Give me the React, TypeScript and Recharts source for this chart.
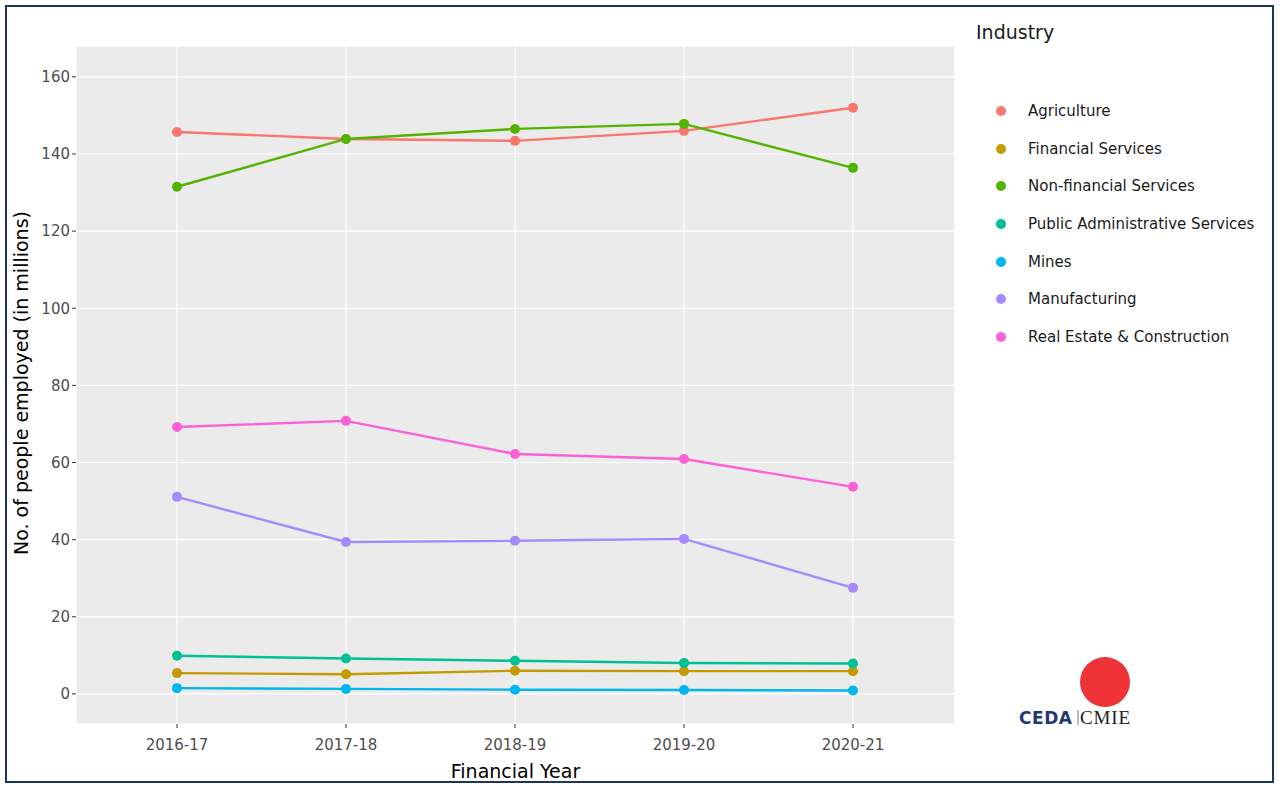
import React from "react";
import {
  LineChart,
  Line,
  CartesianGrid,
  XAxis,
  YAxis,
} from "recharts";

const years = ["2016-17", "2017-18", "2018-19", "2019-20", "2020-21"];

const agriculture = [145.7, 143.9, 143.4, 146.0, 152.0];
const financialServices = [5.4, 5.1, 6.0, 5.9, 5.9];
const nonFinancialServices = [131.5, 143.9, 146.5, 147.8, 136.4];
const publicAdmin = [9.9, 9.2, 8.6, 8.0, 7.9];
const mines = [1.5, 1.3, 1.1, 1.0, 0.9];
const manufacturing = [51.1, 39.4, 39.7, 40.2, 27.5];
const realEstate = [69.2, 70.8, 62.2, 60.9, 53.7];

const yTicks = [0, 20, 40, 60, 80, 100, 120, 140, 160];

const series = [
  { key: "agri", name: "Agriculture", color: "#F8766D", values: agriculture },
  { key: "fin", name: "Financial Services", color: "#C49A00", values: financialServices },
  { key: "nonfin", name: "Non-financial Services", color: "#53B400", values: nonFinancialServices },
  { key: "pub", name: "Public Administrative Services", color: "#00C094", values: publicAdmin },
  { key: "mines", name: "Mines", color: "#00B6EB", values: mines },
  { key: "mfg", name: "Manufacturing", color: "#A58AFF", values: manufacturing },
  { key: "re", name: "Real Estate & Construction", color: "#FB61D7", values: realEstate },
];

const data = years.map((year, i) => {
  const row: any = { year };
  series.forEach((s) => (row[s.key] = s.values[i]));
  return row;
});

const FONT = "'DejaVu Sans', Verdana, sans-serif";

// legend drawn beside the plot, ggplot style
const LegendBox = () => (
  <div
    style={{
      position: "absolute",
      left: 976,
      top: 19,
      fontFamily: FONT,
      color: "#1a1a1a",
    }}
  >
    <div style={{ fontSize: 19, lineHeight: "26px", marginBottom: 47 }}>Industry</div>
    {series.map((s) => (
      <div
        key={s.key}
        style={{ display: "flex", alignItems: "center", height: 37.7, fontSize: 15 }}
      >
        <span
          style={{
            display: "inline-block",
            width: 10,
            height: 10,
            borderRadius: 5,
            background: s.color,
            marginLeft: 20,
            marginRight: 22,
          }}
        />
        {s.name}
      </div>
    ))}
  </div>
);

export default function App() {
  return (
    <div
      style={{
        position: "absolute",
        left: 0,
        top: 0,
        width: 1280,
        height: 790,
        background: "#fff",
        fontFamily: FONT,
      }}
    >
      <div
        style={{
          position: "absolute",
          left: 5,
          top: 5,
          width: 1269,
          height: 778,
          border: "2.5px solid #1d3557",
          boxSizing: "border-box",
        }}
      />
      <LineChart
        width={1280}
        height={790}
        data={data}
        margin={{ top: 46, right: 325, bottom: 26, left: 26 }}
      >
        <CartesianGrid fill="#EBEBEB" stroke="#ffffff" strokeWidth={1.2} />
        <XAxis
          dataKey="year"
          scale="point"
          padding={{ left: 101, right: 102 }}
          axisLine={false}
          tickLine={{ stroke: "#333" }}
          tickSize={4}
          tickMargin={11}
          tick={{ fill: "#4d4d4d", fontSize: 15, fontFamily: FONT }}
          height={40}
          label={{
            value: "Financial Year",
            position: "insideBottom",
            offset: -14,
            fill: "#000",
            fontSize: 19,
            fontFamily: FONT,
          }}
        />
        <YAxis
          domain={[-7.8, 168]}
          ticks={yTicks}
          axisLine={false}
          tickLine={{ stroke: "#333" }}
          tickSize={4}
          width={50}
          tick={{ fill: "#4d4d4d", fontSize: 15, fontFamily: FONT }}
          label={{
            value: "No. of people employed (in millions)",
            angle: -90,
            position: "insideLeft",
            dx: -10,
            dy: 170,
            fill: "#000",
            fontSize: 19,
            fontFamily: FONT,
          }}
        />
        {series.map((s) => (
          <Line
            key={s.key}
            dataKey={s.key}
            name={s.name}
            stroke={s.color}
            strokeWidth={2.4}
            dot={{ r: 5, fill: s.color, stroke: s.color, strokeWidth: 0 }}
            activeDot={false}
            isAnimationActive={false}
          />
        ))}
      </LineChart>
      <LegendBox />
      <svg
        style={{ position: "absolute", left: 1010, top: 650 }}
        width={140}
        height={80}
      >
        <circle cx={95} cy={32} r={25} fill="#EE3338" />
        <text
          x={9}
          y={74}
          fontFamily="'DejaVu Sans', sans-serif"
          fontWeight="bold"
          fontSize={17}
          fill="#1f3a6e"
          textLength={53}
        >
          CEDA
        </text>
        <line x1={68} y1={60} x2={68} y2={75} stroke="#555" strokeWidth={0.8} />
        <text
          x={70}
          y={74}
          fontFamily="'Liberation Serif', serif"
          fontSize={19}
          fill="#222"
          textLength={50}
        >
          CMIE
        </text>
      </svg>
    </div>
  );
}
